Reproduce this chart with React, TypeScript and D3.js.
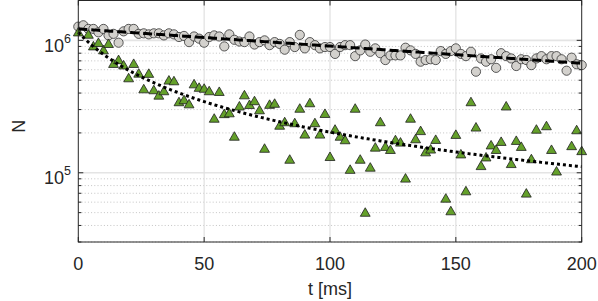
import React from "react";
import * as d3 from "d3";

// grey circles, sampled every 2 ms
const tCircle = [
  0, 2, 4, 6, 8, 10, 12, 14, 16, 18, 20, 22, 24, 26, 28, 30, 32, 34, 36, 38, 40,
  42, 44, 46, 48, 50, 52, 54, 56, 58, 60, 62, 64, 66, 68, 70, 72, 74, 76, 78, 80,
  82, 84, 86, 88, 90, 92, 94, 96, 98, 100, 102, 104, 106, 108, 110, 112, 114, 116,
  118, 120, 122, 124, 126, 128, 130, 132, 134, 136, 138, 140, 142, 144, 146, 148,
  150, 152, 154, 156, 158, 160, 162, 164, 166, 168, 170, 172, 174, 176, 178, 180,
  182, 184, 186, 188, 190, 192, 194, 196, 198, 200,
];
const nCircle = [
  1.27e6, 1.3e6, 1.22e6, 1.22e6, 1.15e6, 1.22e6, 1.09e6, 1.12e6, 0.96e6, 1.17e6,
  1.22e6, 1.22e6, 1.12e6, 1.13e6, 1.11e6, 1.13e6, 1.13e6, 1.09e6, 1.13e6, 1.11e6,
  1.06e6, 1.08e6, 0.97e6, 1.07e6, 1.03e6, 0.96e6, 1.06e6, 1.09e6, 1.07e6, 0.9e6,
  1.11e6, 1.01e6, 0.98e6, 0.97e6, 1.07e6, 0.93e6, 0.97e6, 1.0e6, 0.92e6, 0.97e6,
  0.94e6, 0.85e6, 0.97e6, 0.89e6, 1.1e6, 0.87e6, 0.97e6, 0.92e6, 0.87e6, 0.89e6,
  0.89e6, 0.79e6, 0.89e6, 0.92e6, 0.92e6, 0.76e6, 0.84e6, 0.93e6, 0.82e6, 0.87e6,
  0.8e6, 0.71e6, 0.77e6, 0.77e6, 0.77e6, 0.88e6, 0.84e6, 0.79e6, 0.69e6, 0.71e6,
  0.72e6, 0.71e6, 0.83e6, 0.79e6, 0.83e6, 0.87e6, 0.79e6, 0.76e6, 0.82e6, 0.58e6,
  0.73e6, 0.69e6, 0.72e6, 0.62e6, 0.8e6, 0.76e6, 0.73e6, 0.64e6, 0.72e6, 0.71e6,
  0.65e6, 0.73e6, 0.76e6, 0.72e6, 0.76e6, 0.76e6, 0.72e6, 0.59e6, 0.74e6, 0.66e6,
  0.65e6,
];

// green triangles
const tTri = [
  0, 4, 6, 8, 10, 12, 14, 16, 18, 20, 22, 24, 26, 28, 30, 32, 34, 36, 38, 40, 42,
  44, 46, 48, 50, 52, 54, 56, 58, 60, 62, 64, 66, 68, 70, 72, 74, 76, 78, 80, 82,
  84, 86, 88, 90, 92, 94, 96, 98, 100, 102, 104, 106, 108, 110, 112, 114, 116, 118,
  120, 122, 124, 126, 128, 130, 132, 134, 136, 138, 140, 142, 146, 148, 150, 152,
  154, 156, 158, 160, 162, 164, 166, 168, 170, 172, 174, 176, 178, 180, 182, 186,
  188, 190, 196, 198, 200,
];
const nTri = [
  1135e3, 1090e3, 890e3, 944e3, 831e3, 928e3, 656e3, 701e3, 639e3, 511e3, 656e3,
  554e3, 422e3, 552e3, 415e3, 378e3, 408e3, 491e3, 485e3, 337e3, 349e3, 325e3,
  460e3, 433e3, 426e3, 408e3, 253e3, 403e3, 274e3, 278e3, 185e3, 313e3, 380e3,
  321e3, 343e3, 293e3, 150e3, 322e3, 328e3, 224e3, 238e3, 124e3, 234e3, 301e3,
  192e3, 331e3, 234e3, 192e3, 275e3, 130e3, 209e3, 185e3, 174e3, 104e3, 301e3,
  124e3, 49.3e3, 108e3, 153e3, 238e3, 155e3, 147e3, 174e3, 167e3, 89.3e3, 253e3,
  177e3, 204e3, 141e3, 148e3, 175e3, 63e3, 50.6e3, 191e3, 136e3, 71.6e3, 337e3,
  217e3, 111e3, 129e3, 159e3, 147e3, 169e3, 313e3, 115e3, 172e3, 155e3, 68.8e3,
  125e3, 209e3, 222e3, 147e3, 101e3, 157e3, 207e3, 144e3,
];

// fitted curves
const fitCircle = { amp: 1.22e6, tau: 335 }; // exponential decay
const fitTri = { n0: 1.15e6, tau: 21.4 }; // two-body decay

const xTicks = [0, 50, 100, 150, 200];
const yMajor = [1e5, 1e6];
const yMinor = [3e4, 4e4, 5e4, 6e4, 7e4, 8e4, 9e4, 2e5, 3e5, 4e5, 5e5, 6e5, 7e5, 8e5, 9e5];

const W = 598;
const H = 301;
const L = 78.3;
const R = 581.7;
const T = 0.5;
const B = 242;
const axisCol = "#262626";
const font = "'Liberation Sans', Arial, Helvetica, sans-serif";

export default function App() {
  const x = d3.scaleLinear().domain([0, 200]).range([L, R]);
  const y = d3.scaleLog().domain([3e4, 2e6]).range([B, T]);

  const tFine = d3.range(0, 200.5, 1);
  const line = d3
    .line<[number, number]>()
    .x((d) => x(d[0]))
    .y((d) => y(d[1]));
  const dashPath = line(tFine.map((t) => [t, fitCircle.amp * Math.exp(-t / fitCircle.tau)]));
  const dotPath = line(tFine.map((t) => [t, fitTri.n0 / (1 + t / fitTri.tau)]));

  const tri = d3.symbol().type(d3.symbolTriangle).size(42)();

  return (
    <svg width={W} height={H} style={{ display: "block" }} fontFamily={font}>
      <style>{`body{margin:0}`}</style>
      <rect x={0} y={0} width={W} height={H} fill="#fff" />

      {/* grid */}
      {yMinor.map((v) => (
        <line key={"gm" + v} x1={L} x2={R} y1={y(v)} y2={y(v)} stroke="#c4c4c4" strokeWidth={1} strokeDasharray="1,2.2" />
      ))}
      {yMajor.map((v) => (
        <line key={"gM" + v} x1={L} x2={R} y1={y(v)} y2={y(v)} stroke="#e4e4e4" strokeWidth={1.6} />
      ))}
      {xTicks.slice(1, -1).map((v) => (
        <line key={"gx" + v} x1={x(v)} x2={x(v)} y1={T} y2={B} stroke="#e0e0e0" strokeWidth={1.2} />
      ))}

      {/* data */}
      <g>
        {tCircle.map((t, i) => (
          <circle key={"c" + i} cx={x(t)} cy={y(nCircle[i])} r={4.6} fill="#d3d1cd" stroke="#333" strokeWidth={0.8} />
        ))}
      </g>
      <g>
        {tTri.map((t, i) => (
          <path key={"t" + i} d={tri} transform={`translate(${x(t)},${y(nTri[i])})`} fill="#64a02a" stroke="#1e1e1e" strokeWidth={0.8} />
        ))}
      </g>
      <path d={dashPath ?? ""} fill="none" stroke="#000" strokeWidth={3} strokeDasharray="9,4" />
      <path d={dotPath ?? ""} fill="none" stroke="#000" strokeWidth={3} strokeDasharray="3,3" />

      {/* box + ticks */}
      <rect x={L} y={T} width={R - L} height={B - T} fill="none" stroke={axisCol} strokeWidth={1} />
      {xTicks.map((v) => (
        <g key={"xt" + v} stroke={axisCol}>
          <line x1={x(v)} x2={x(v)} y1={B} y2={B - 5} />
          <line x1={x(v)} x2={x(v)} y1={T} y2={T + 5} />
        </g>
      ))}
      {yMajor.map((v) => (
        <g key={"yt" + v} stroke={axisCol}>
          <line x1={L} x2={L + 5} y1={y(v)} y2={y(v)} />
          <line x1={R} x2={R - 5} y1={y(v)} y2={y(v)} />
        </g>
      ))}
      {yMinor.map((v) => (
        <g key={"ym" + v} stroke={axisCol}>
          <line x1={L} x2={L + 3} y1={y(v)} y2={y(v)} />
          <line x1={R} x2={R - 3} y1={y(v)} y2={y(v)} />
        </g>
      ))}

      {/* tick labels */}
      {xTicks.map((v) => (
        <text key={"xl" + v} x={x(v)} y={270} textAnchor="middle" fontSize={18} fill={axisCol}>
          {v}
        </text>
      ))}
      {yMajor.map((v) => (
        <text key={"yl" + v} x={71} y={y(v) + 11.6} textAnchor="end" fontSize={18} fill={axisCol}>
          10
          <tspan dy={-9} fontSize={12.5}>
            {Math.round(Math.log10(v))}
          </tspan>
        </text>
      ))}

      {/* axis labels */}
      <text x={x(100)} y={295} textAnchor="middle" fontSize={18} fill={axisCol}>
        t [ms]
      </text>
      <text transform={`translate(25,${(T + B) / 2 + 5}) rotate(-90)`} textAnchor="middle" fontSize={18} fill={axisCol}>
        N
      </text>
    </svg>
  );
}
